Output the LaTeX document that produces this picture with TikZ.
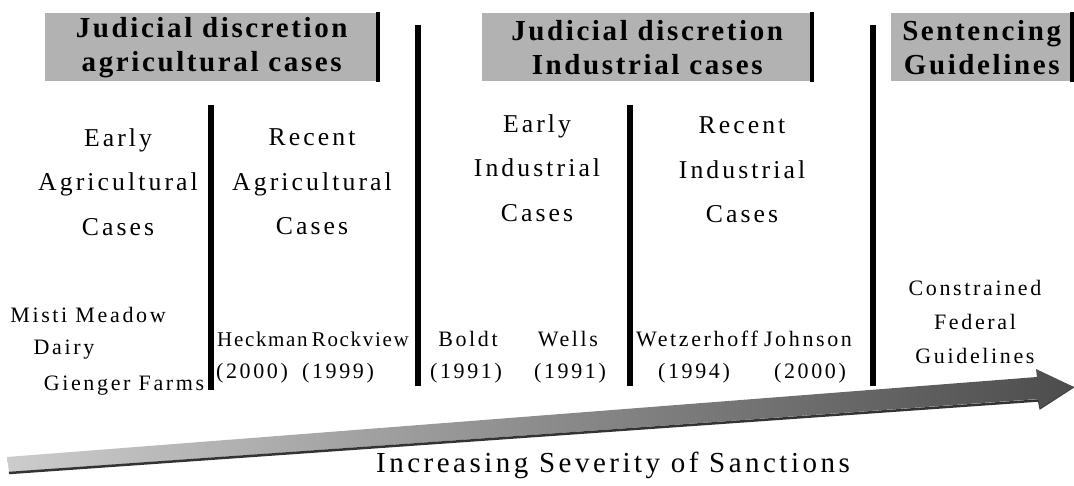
\documentclass[tikz,border=0pt]{standalone}
\usepackage{fontspec}
\setmainfont{Liberation Serif}
\newfontfamily\spc[LetterSpace=12]{Liberation Serif}
\newfontfamily\tight[LetterSpace=8]{Liberation Serif}
\newfontfamily\hdr[LetterSpace=9]{Liberation Serif}
\usetikzlibrary{shadings}
\definecolor{hgray}{gray}{0.70}
\tikzset{
  hdrbox/.style={fill=hgray, anchor=north west, minimum height=68pt, inner sep=0pt,
    align=center, font=\hdr\bfseries\fontsize{29}{34}\selectfont},
  hbar/.style={line width=4pt},
  divider/.style={line width=6pt},
  coltitle/.style={align=center, inner sep=0pt, font=\spc\fontsize{25.7}{44.5}\selectfont},
  caselbl/.style={align=center, inner sep=0pt, font=\spc\fontsize{22}{34}\selectfont},
  narrowlbl/.style={inner sep=0pt, font=\tight\fontsize{21}{34}\selectfont},
  bottomlbl/.style={inner sep=0pt, font=\spc\fontsize{29}{34}\selectfont}
}
\begin{document}
\begin{tikzpicture}[x=1pt,y=-1pt]
\useasboundingbox (0,0) rectangle (1074,485);
% header boxes
\node[hdrbox, minimum width=333pt] (h1) at (45,13) {Judicial discretion\\agricultural cases};
\node[hdrbox, minimum width=330pt] (h2) at (482,13) {Judicial discretion\\Industrial cases};
\node[hdrbox, minimum width=181pt] (h3) at (891,13) {Sentencing\\Guidelines};
\draw[hbar] ([yshift=1pt]h1.north east) -- ([yshift=-1pt]h1.south east);
\draw[hbar] ([yshift=1pt]h2.north east) -- ([yshift=-1pt]h2.south east);
\draw[hbar] ([yshift=1pt]h3.north east) -- ([yshift=-1pt]h3.south east);
% dividers
\coordinate (d1t) at (211,105); \coordinate (d1b) at (211,390);
\coordinate (d2t) at (418,25);  \coordinate (d2b) at (418,386);
\coordinate (d3t) at (630,105); \coordinate (d3b) at (630,386);
\coordinate (d4t) at (873,25);  \coordinate (d4b) at (873,386);
\draw[divider] (d1t) -- (d1b);
\draw[divider] (d2t) -- (d2b);
\draw[divider] (d3t) -- (d3b);
\draw[divider] (d4t) -- (d4b);
% column titles
\node[coltitle] (ea) at (118,182) {Early\\Agricultural\\Cases};
\node[coltitle] (ra) at (312,182) {Recent\\Agricultural\\Cases};
\node[coltitle] (ei) at (537,168) {Early\\Industrial\\Cases};
\node[coltitle] (ri) at (742,170) {Recent\\Industrial\\Cases};
% cases
\node[caselbl] (mm) at (88,315) {Misti Meadow};
\node[caselbl] (da) at (64,350) {Dairy};
\node[caselbl] (gf) at (124,386) {Gienger Farms};
\node[narrowlbl, anchor=west] (he) at (217,339) {Heckman};
\node[narrowlbl, anchor=east] (ro) at (409,339) {Rockview};
\node[caselbl] (hey) at (252,373) {(2000)};
\node[caselbl] (roy) at (338,373) {(1999)};
\node[caselbl] (bo) at (468,339) {Boldt};
\node[caselbl] (boy) at (466,373) {(1991)};
\node[caselbl] (we) at (568,339) {Wells};
\node[caselbl] (wey) at (570,373) {(1991)};
\node[caselbl] (wz) at (697,339) {Wetzerhoff};
\node[caselbl] (wzy) at (694,373) {(1994)};
\node[caselbl] (jo) at (808,339) {Johnson};
\node[caselbl] (joy) at (810,373) {(2000)};
\node[caselbl] (cf) at (975,322) {Constrained\\Federal\\Guidelines};
% arrow
\coordinate (tl) at (7,457);
\coordinate (bl) at (9,472);
\coordinate (st) at (1037,377);
\coordinate (sb) at (1038,399);
\coordinate (ht) at (1036,369);
\coordinate (hb) at (1040,409);
\coordinate (tip) at (1074,387);
\shade[left color=black!20, right color=black!70]
  (tl) -- (st) -- (ht) -- (tip) -- (hb) -- (sb) -- (bl) -- cycle;
\draw[black!80, line width=2.5pt] ([yshift=-1pt]bl) -- ([yshift=-1.5pt]sb);
\draw[black!75, line width=1pt] (sb) -- (hb) -- (tip);
% bottom label
\node[bottomlbl] (sev) at (613,465) {Increasing Severity of Sanctions};
\end{tikzpicture}
\end{document}
